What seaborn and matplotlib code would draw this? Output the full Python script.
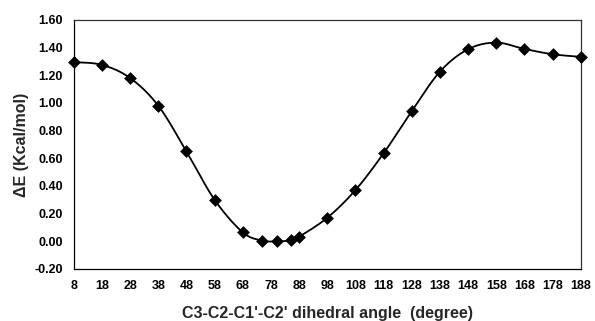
"""
Dihedral scan energy profile (C3-C2-C1'-C2')
"""

import numpy as np
import pandas as pd
import matplotlib
matplotlib.use('Agg')
import matplotlib.pyplot as plt
import seaborn as sns

sns.set_style("white")
plt.rcParams['font.family'] = ['Liberation Sans', 'DejaVu Sans']
plt.rcParams['font.weight'] = 'bold'

# 데이터
angle = [8, 18, 28, 38, 48, 58, 68, 75, 80, 85, 88, 98, 108, 118,
         128, 138, 148, 158, 168, 178, 188]
delta_e = [1.295, 1.275, 1.18, 0.98, 0.65, 0.30, 0.065, 0.005, 0.0, 0.007,
           0.033, 0.17, 0.37, 0.636, 0.94, 1.226, 1.388, 1.436, 1.39,
           1.352, 1.333]
x_ticks = list(range(8, 189, 10))
y_ticks = [-0.20, 0.00, 0.20, 0.40, 0.60, 0.80, 1.00, 1.20, 1.40, 1.60]


def smooth_curve(x, y, n=30):
    """Excel 스타일 부드러운 선 (Catmull-Rom)"""
    p = np.column_stack([x, y]).astype(float)
    p = np.vstack([p[0], p, p[-1]])
    out = []
    t = np.linspace(0, 1, n)[:, None]
    for i in range(1, len(p) - 2):
        p0, p1, p2, p3 = p[i - 1], p[i], p[i + 1], p[i + 2]
        seg = 0.5 * ((2 * p1) + (-p0 + p2) * t
                     + (2 * p0 - 5 * p1 + 4 * p2 - p3) * t ** 2
                     + (-p0 + 3 * p1 - 3 * p2 + p3) * t ** 3)
        out.append(seg)
    out = np.vstack(out)
    return out[:, 0], out[:, 1]


df = pd.DataFrame({'angle': angle, 'dE': delta_e})
sx, sy = smooth_curve(angle, delta_e)
curve = pd.DataFrame({'angle': sx, 'dE': sy})

fig = plt.figure(figsize=(5.95, 3.21), dpi=100)
ax = fig.add_axes([0.124, 0.162, 0.852, 0.776])

sns.lineplot(data=curve, x='angle', y='dE', ax=ax, color='black',
             linewidth=1.3, sort=False, estimator=None)
sns.scatterplot(data=df, x='angle', y='dE', ax=ax, marker='D', color='black',
                s=36, edgecolor='black', zorder=3, clip_on=False)

ax.set_xlim(8, 188)
ax.set_ylim(-0.20, 1.60)
ax.set_xticks(x_ticks)
ax.set_yticks(y_ticks)
ax.set_yticklabels([f'{v:.2f}' for v in y_ticks])
ax.tick_params(axis='both', direction='out', length=4, width=0.8,
               labelsize=9, colors='black', pad=4)
for lab in ax.get_xticklabels() + ax.get_yticklabels():
    lab.set_fontweight('bold')

for side in ['left', 'bottom']:
    ax.spines[side].set_color('black')
    ax.spines[side].set_linewidth(0.9)
for side in ['top', 'right']:
    ax.spines[side].set_color('#333333')
    ax.spines[side].set_linewidth(0.9)

ax.set_xlabel("C3-C2-C1'-C2' dihedral angle  (degree)", fontsize=11.5,
              fontweight='bold')
ax.set_ylabel('ΔE (Kcal/mol)', fontsize=11.5, fontweight='bold')
ax.xaxis.set_label_coords(0.5, -0.177)
ax.yaxis.set_label_coords(-0.104, 0.5)
ax.xaxis.label.set_va('center')
ax.yaxis.label.set_va('center')

plt.savefig('out.png', dpi=100)
plt.close()
